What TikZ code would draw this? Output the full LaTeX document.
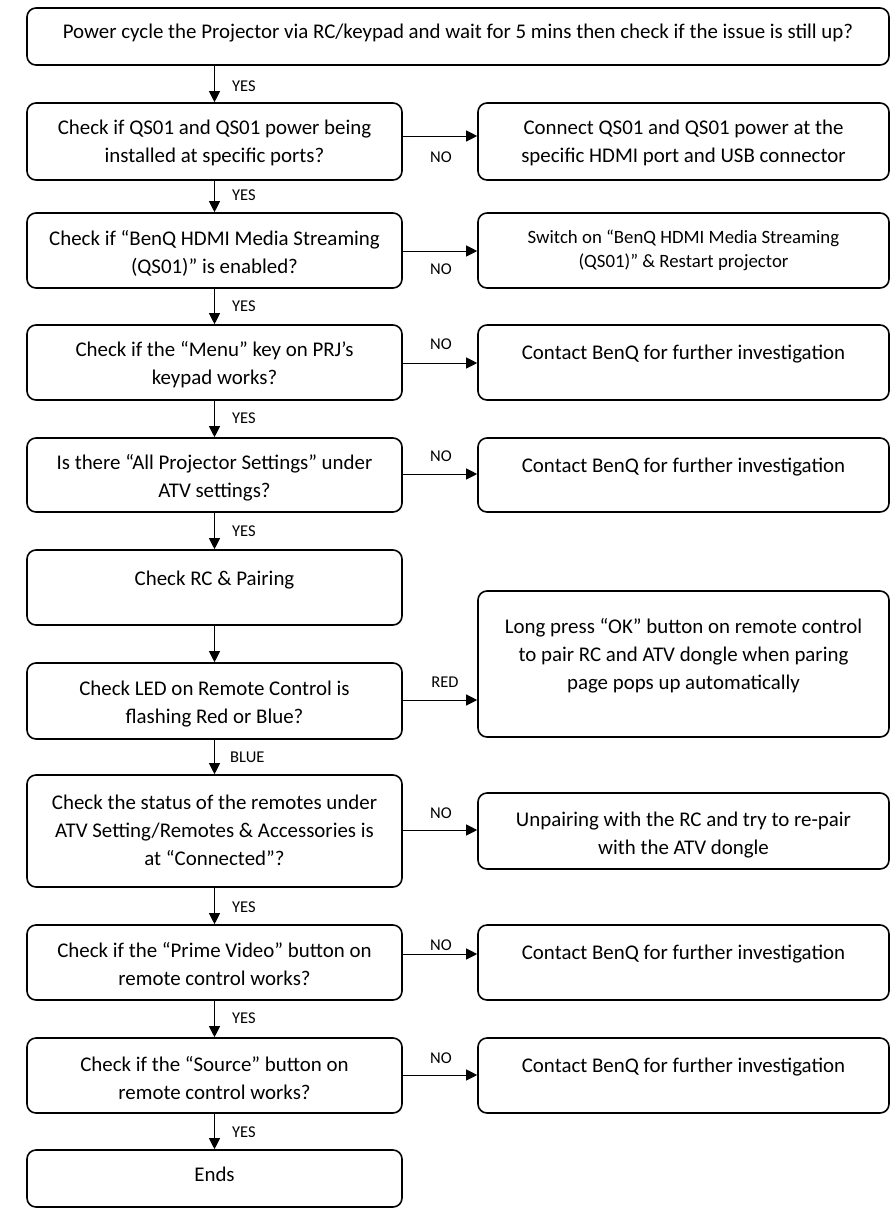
\documentclass[tikz,border=0pt]{standalone}
\usepackage{fontspec}
\setmainfont{Carlito}
\usetikzlibrary{arrows.meta}
\begin{document}
\begin{tikzpicture}[x=1pt,y=-1pt,
  box/.style={draw, line width=1.6pt, rounded corners=9pt, inner sep=0pt},
  lbox/.style={box, minimum width=375pt},
  rbox/.style={box, minimum width=411pt},
  txt/.style={align=center, font=\fontsize{20.9}{28}\selectfont, inner sep=0pt},
  stxt/.style={align=center, font=\fontsize{18.8}{24}\selectfont, inner sep=0pt},
  lab/.style={font=\fontsize{16.5}{18}\selectfont, inner sep=0pt},
  arr/.style={line width=1pt, -{Triangle[length=11pt,width=11pt]}}]
\fill[white] (0,0) rectangle (894,1221);
\useasboundingbox (0,0) rectangle (894,1221);

% boxes
\node[box, minimum width=862pt, minimum height=57pt] (b1) at (458,36.5) {};
\node[lbox, minimum height=77pt] (b2) at (214.5,141.5) {};
\node[rbox, minimum height=77pt] (r2) at (683.5,141.5) {};
\node[lbox, minimum height=75pt] (b3) at (214.5,250.5) {};
\node[rbox, minimum height=75pt] (r3) at (683.5,250.5) {};
\node[lbox, minimum height=75pt] (b4) at (214.5,362.5) {};
\node[rbox, minimum height=75pt] (r4) at (683.5,362.5) {};
\node[lbox, minimum height=74pt] (b5) at (214.5,475) {};
\node[rbox, minimum height=74pt] (r5) at (683.5,475) {};
\node[lbox, minimum height=75pt] (b6) at (214.5,587.5) {};
\node[lbox, minimum height=76pt] (b7) at (214.5,701) {};
\node[rbox, minimum height=146pt] (r7) at (683.5,664) {};
\node[lbox, minimum height=112pt] (b8) at (214.5,831) {};
\node[rbox, minimum height=76pt] (r8) at (683.5,831) {};
\node[lbox, minimum height=75pt] (b9) at (214.5,962.5) {};
\node[rbox, minimum height=75pt] (r9) at (683.5,962.5) {};
\node[lbox, minimum height=75pt] (b10) at (214.5,1075.5) {};
\node[rbox, minimum height=75pt] (r10) at (683.5,1075.5) {};
\node[lbox, minimum height=57pt] (b11) at (214.5,1178.5) {};

% texts
\node[txt] (t1) at (458,33) {Power cycle the Projector via RC/keypad and wait for 5 mins then check if the issue is still up?};
\node[txt] (t2) at (214.5,143) {Check if QS01 and QS01 power being\\installed at specific ports?};
\node[txt] (s2) at (683.5,143) {Connect QS01 and QS01 power at the\\specific HDMI port and USB connector};
\node[txt] (t3) at (214.5,253) {Check if “BenQ HDMI Media Streaming\\(QS01)” is enabled?};
\node[stxt] (s3) at (683.5,250) {Switch on “BenQ HDMI Media Streaming\\(QS01)” \& Restart projector};
\node[txt] (t4) at (214.5,365) {Check if the “Menu” key on PRJ’s\\keypad works?};
\node[txt] (s4) at (683.5,354) {Contact BenQ for further investigation};
\node[txt] (t5) at (214.5,478) {Is there “All Projector Settings” under\\ATV settings?};
\node[txt] (s5) at (683.5,467) {Contact BenQ for further investigation};
\node[txt] (t6) at (214.5,580) {Check RC \& Pairing};
\node[txt] (t7) at (214.5,704) {Check LED on Remote Control is\\flashing Red or Blue?};
\node[txt] (s7) at (683.5,656) {Long press “OK” button on remote control\\to pair RC and ATV dongle when paring\\page pops up automatically};
\node[txt] (t8) at (214.5,830) {Check the status of the remotes under\\ATV Setting/Remotes \& Accessories is\\at “Connected”?};
\node[txt] (s8) at (683.5,835) {Unpairing with the RC and try to re-pair\\with the ATV dongle};
\node[txt] (t9) at (214.5,964) {Check if the “Prime Video” button on\\remote control works?};
\node[txt] (s9) at (683.5,954) {Contact BenQ for further investigation};
\node[txt] (t10) at (214.5,1078) {Check if the “Source” button on\\remote control works?};
\node[txt] (s10) at (683.5,1067) {Contact BenQ for further investigation};
\node[txt] (t11) at (214.5,1174) {Ends};

% vertical arrows
\draw[arr] (b1.south -| b2.north) -- (b2.north);
\draw[arr] (b2) -- (b3);
\draw[arr] (b3) -- (b4);
\draw[arr] (b4) -- (b5);
\draw[arr] (b5) -- (b6);
\draw[arr] (b6) -- (b7);
\draw[arr] (b7) -- (b8);
\draw[arr] (b8) -- (b9);
\draw[arr] (b9) -- (b10);
\draw[arr] (b10) -- (b11);

% horizontal arrows
\draw[arr] ([yshift=5.5pt]b2.east) -- ([yshift=5.5pt]b2.east -| r2.west);
\draw[arr] ([yshift=-0.5pt]b3.east) -- ([yshift=-0.5pt]b3.east -| r3.west);
\draw[arr] ([yshift=-0.5pt]b4.east) -- ([yshift=-0.5pt]b4.east -| r4.west);
\draw[arr] ([yshift=1pt]b5.east) -- ([yshift=1pt]b5.east -| r5.west);
\draw[arr] ([yshift=1pt]b7.east) -- ([yshift=1pt]b7.east -| r7.west);
\draw[arr] ([yshift=1pt]b8.east) -- ([yshift=1pt]b8.east -| r8.west);
\draw[arr] ([yshift=8.5pt]b9.east) -- ([yshift=8.5pt]b9.east -| r9.west);
\draw[arr] ([yshift=0.5pt]b10.east) -- ([yshift=0.5pt]b10.east -| r10.west);

% labels
\node[lab, anchor=west] (y1) at (232,86) {YES};
\node[lab, anchor=west] (y2) at (232,195) {YES};
\node[lab, anchor=west] (y3) at (232,306) {YES};
\node[lab, anchor=west] (y4) at (232,418) {YES};
\node[lab, anchor=west] (y5) at (232,531) {YES};
\node[lab, anchor=west] (y7) at (230,757) {BLUE};
\node[lab, anchor=west] (y8) at (232,907) {YES};
\node[lab, anchor=west] (y9) at (232,1018) {YES};
\node[lab, anchor=west] (y10) at (232,1132) {YES};
\node[lab] (n2) at (441,157) {NO};
\node[lab] (n3) at (441,269) {NO};
\node[lab] (n4) at (441,344) {NO};
\node[lab] (n5) at (441,456) {NO};
\node[lab] (n7) at (445,682) {RED};
\node[lab] (n8) at (441,813) {NO};
\node[lab] (n9) at (441,945) {NO};
\node[lab] (n10) at (441,1058) {NO};
\end{tikzpicture}
\end{document}
